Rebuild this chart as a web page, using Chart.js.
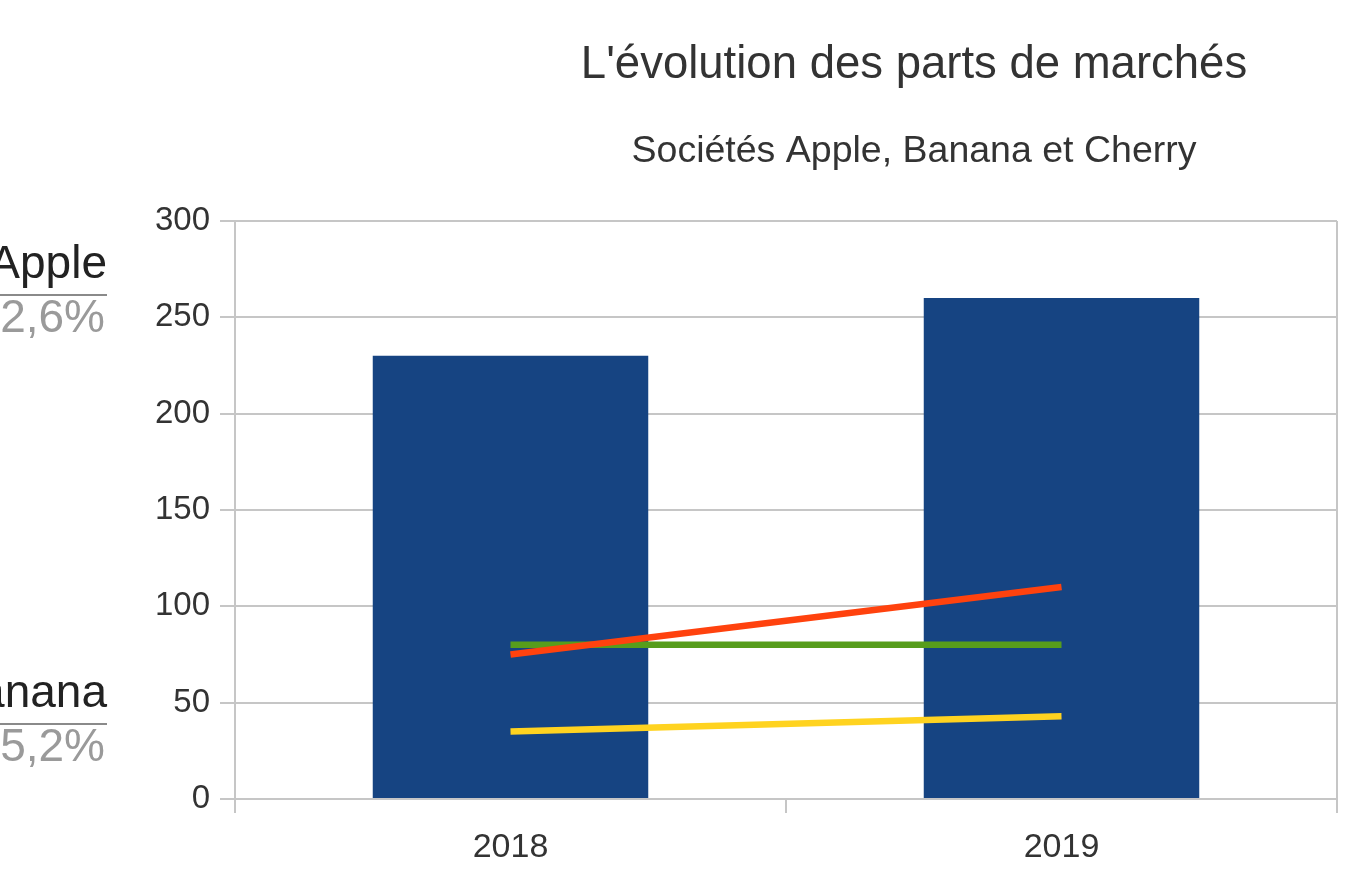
<!DOCTYPE html>
<html>
<head>
<meta charset="utf-8">
<script src="https://cdn.jsdelivr.net/npm/chart.js@4"></script>
<style>
  html, body { margin: 0; padding: 0; background: #fff; }
  #wrap { width: 1350px; height: 890px; }
</style>
</head>
<body>
<div id="wrap"><canvas id="marketChart" width="1350" height="890"></canvas></div>
<script>
// données du graphique
const years = ['2018', '2019'];
const totalValues = [230, 260];
const redValues = [75, 110];
const greenValues = [80, 80];
const yellowValues = [35, 43];

const chartTitle = "L'évolution des parts de marchés";
const chartSubtitle = 'Sociétés Apple, Banana et Cherry';

// étiquettes coupées à gauche (nom + pourcentage)
const sideNames = ['Apple', 'Banana'];
const sidePercents = ['32,6%', '15,2%'];

const FONT = "'Liberation Sans', Arial, sans-serif";
const GRID = '#c6c6c6';

// textes dessinés à la main : titres + étiquettes de gauche
const textPlugin = {
    id: 'texts',
    afterDraw(chart) {
        const c = chart.ctx;
        c.save();
        c.fillStyle = '#333333';
        c.textAlign = 'center';
        c.textBaseline = 'alphabetic';
        c.font = '45.5px ' + FONT;
        c.fillText(chartTitle, 914, 78);
        c.font = '37.5px ' + FONT;
        c.fillText(chartSubtitle, 914, 162);

        const baseY = [278, 707];
        c.textAlign = 'right';
        sideNames.forEach(function(name, i) {
            const y = baseY[i];
            c.fillStyle = '#222222';
            c.font = '46px ' + FONT;
            c.fillText(name, 107, y);
            c.strokeStyle = '#8a8a8a';
            c.lineWidth = 2;
            c.beginPath();
            c.moveTo(0, y + 17);
            c.lineTo(107, y + 17);
            c.stroke();
            c.fillStyle = '#9a9a9a';
            c.font = '46px ' + FONT;
            c.fillText(sidePercents[i], 105, y + 54);
        });
        c.restore();
    }
};

const ctx = document.getElementById('marketChart').getContext('2d');
const marketChart = new Chart(ctx, {
    data: {
        labels: years,
        datasets: [{
            type: 'line',
            label: 'Rouge',
            data: redValues,
            borderColor: '#ff420e',
            borderWidth: 6.5,
            pointRadius: 0,
            order: 1
        }, {
            type: 'line',
            label: 'Vert',
            data: greenValues,
            borderColor: '#579d1c',
            borderWidth: 6.5,
            pointRadius: 0,
            order: 1
        }, {
            type: 'line',
            label: 'Jaune',
            data: yellowValues,
            borderColor: '#ffd320',
            borderWidth: 6.5,
            pointRadius: 0,
            order: 1
        }, {
            type: 'bar',
            label: 'Total',
            data: totalValues,
            backgroundColor: '#164482',
            categoryPercentage: 1,
            barPercentage: 0.5,
            order: 2
        }]
    },
    options: {
        responsive: false,
        animation: false,
        layout: {
            padding: { left: 0, top: 221, right: 13, bottom: 0 }
        },
        plugins: {
            legend: { display: false },
            title: { display: false },
            tooltip: { enabled: false }
        },
        scales: {
            x: {
                offset: true,
                grid: {
                    offset: true,
                    color: function(c) { return c.index === 1 ? 'rgba(0,0,0,0)' : GRID; },
                    tickColor: GRID,
                    lineWidth: 2,
                    tickLength: 14
                },
                border: { display: false },
                ticks: {
                    color: '#333333',
                    padding: 14,
                    font: { family: FONT, size: 34 }
                },
                afterFit: function(scale) { scale.height = 91; }
            },
            y: {
                min: 0,
                max: 300,
                ticks: {
                    stepSize: 50,
                    color: '#333333',
                    padding: 10,
                    font: { family: FONT, size: 33 }
                },
                grid: {
                    color: GRID,
                    lineWidth: 2,
                    tickLength: 15
                },
                border: { color: GRID, width: 2 },
                afterFit: function(scale) { scale.width = 235; }
            }
        }
    },
    plugins: [textPlugin]
});
</script>
</body>
</html>
